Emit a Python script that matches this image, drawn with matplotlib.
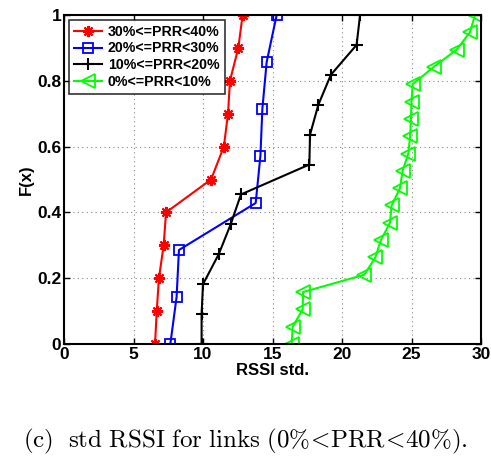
import numpy as np
import matplotlib.pyplot as plt

plt.rcParams['font.family'] = 'Liberation Sans'
plt.rcParams['font.weight'] = 'bold'
plt.rcParams['mathtext.fontset'] = 'cm'

## RSSI std values per PRR group (sorted), CDF levels are i/(n-1)
std_30_40 = [6.55, 6.67, 6.83, 7.17, 7.34, 10.58, 11.5, 11.8, 11.94, 12.54, 12.85]
std_20_30 = [7.65, 8.1, 8.27, 13.79, 14.13, 14.27, 14.58, 15.3]
std_10_20 = [9.9, 9.9, 10.0, 11.13, 11.99, 12.73, 17.65, 17.7, 18.3, 19.2, 21.05, 21.3]
std_0_10 = [16.38, 16.45, 17.17, 17.2, 21.6, 22.4, 22.8, 23.45, 23.57, 24.17,
            24.36, 24.77, 24.9, 24.96, 25.0, 25.08, 26.6, 28.25, 29.2, 29.57]

labels = ['30%<=PRR<40%', '20%<=PRR<30%', '10%<=PRR<20%', '0%<=PRR<10%']
xticks = [0, 5, 10, 15, 20, 25, 30]
yticks = [0, 0.2, 0.4, 0.6, 0.8, 1]


def cdf(vals):
    return np.linspace(0, 1, len(vals))


fig = plt.figure(figsize=(4.91, 4.57), dpi=100)
ax = fig.add_axes([64 / 491, 1 - 344 / 457, 417 / 491, 329 / 457])

ax.plot(std_30_40, cdf(std_30_40), color='red', lw=1.5, marker=(8, 2, 0),
        ms=8, mew=1.5, label=labels[0])
ax.plot(std_20_30, cdf(std_20_30), color='blue', lw=1.5, marker='s',
        ms=7, mfc='none', mew=1.3, label=labels[1])
ax.plot(std_10_20, cdf(std_10_20), color='black', lw=1.5, marker='+',
        ms=9, mew=1.5, label=labels[2])
ax.plot(std_0_10, cdf(std_0_10), color='#00ff00', lw=1.5, marker='<',
        ms=10, mfc='none', mew=1.3, label=labels[3])

ax.set_xlim(0, 30)
ax.set_ylim(0, 1)
ax.set_xticks(xticks)
ax.set_yticks(yticks)
ax.set_yticklabels(['0', '0.2', '0.4', '0.6', '0.8', '1'])
ax.tick_params(direction='in', top=True, right=True, labelsize=12.5, length=4, width=1, pad=2)
ax.grid(True, linestyle=(0, (1, 3)), color='#888888', lw=0.8)
for s in ax.spines.values():
    s.set_linewidth(1.5)

ax.set_xlabel('RSSI std.', fontsize=12, fontweight='bold', labelpad=1)
ax.set_ylabel('F(x)', fontsize=12, fontweight='bold', labelpad=2)

leg = ax.legend(loc='upper left', fontsize=10.2, frameon=True, fancybox=False,
                edgecolor='black', borderpad=0.35, labelspacing=0.18,
                handlelength=2.0, handletextpad=0.4, borderaxespad=0.35)
leg.get_frame().set_linewidth(1.2)

fig.text(0.5, 1 - 441 / 457,
         r'$\mathrm{(c)\ \ std\ RSSI\ for\ links\ (0\%\!<\!PRR\!<\!40\%).}$',
         ha='center', va='center', fontsize=18)

fig.savefig('out.png', dpi=100)
